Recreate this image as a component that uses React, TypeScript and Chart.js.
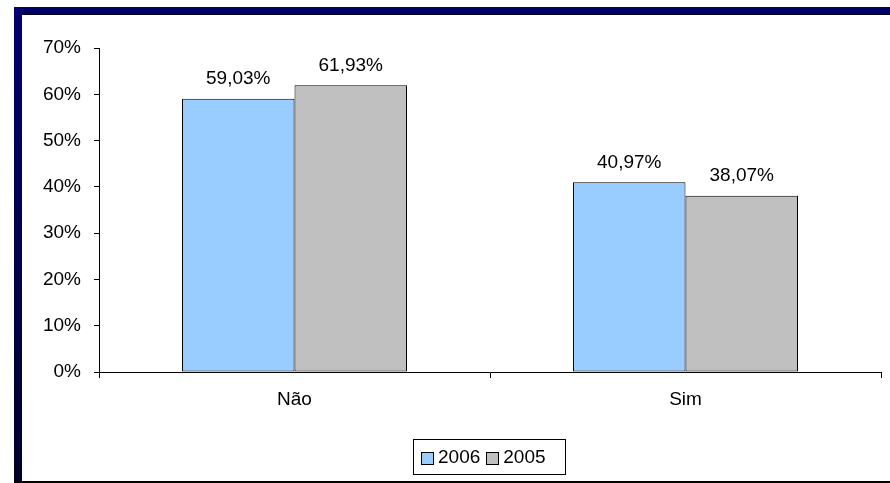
import React, { useEffect, useRef } from "react";
import { Chart, registerables } from "chart.js";

Chart.register(...registerables);

const categories = ["Não", "Sim"];
const seriesNames = ["2006", "2005"];
const values2006 = [59.03, 40.97];
const values2005 = [61.93, 38.07];
const seriesColors = ["#99CCFF", "#C0C0C0"];
const yTicks = [0, 10, 20, 30, 40, 50, 60, 70];

const FONT = "'Liberation Sans', Arial, sans-serif";

const labelPlugin = {
  id: "barLabels",
  afterDatasetsDraw(chart: any) {
    const ctx = chart.ctx;
    ctx.save();
    ctx.font = `19px ${FONT}`;
    ctx.fillStyle = "#000";
    ctx.textAlign = "center";
    ctx.textBaseline = "alphabetic";
    chart.data.datasets.forEach((ds: any, i: number) => {
      const meta = chart.getDatasetMeta(i);
      meta.data.forEach((bar: any, j: number) => {
        const v = ds.data[j] as number;
        const txt = v.toFixed(2).replace(".", ",") + "%";
        ctx.fillText(txt, bar.x, bar.y - 14.5);
      });
    });
    ctx.restore();
  },
};

export default function App() {
  const ref = useRef<HTMLCanvasElement | null>(null);

  useEffect(() => {
    if (!ref.current) return;
    const chart = new Chart(ref.current, {
      type: "bar",
      data: {
        labels: categories,
        datasets: [
          {
            label: seriesNames[0],
            data: values2006,
            backgroundColor: seriesColors[0],
            borderColor: "#000",
            borderWidth: 1,
            borderSkipped: false,
          },
          {
            label: seriesNames[1],
            data: values2005,
            backgroundColor: seriesColors[1],
            borderColor: "#000",
            borderWidth: 1,
            borderSkipped: false,
          },
        ],
      },
      options: {
        responsive: false,
        animation: false,
        devicePixelRatio: 1,
        datasets: { bar: { categoryPercentage: 0.5755, barPercentage: 1 } },
        layout: { padding: { left: 0, right: 9, top: 48, bottom: 61 } },
        plugins: { legend: { display: false }, tooltip: { enabled: false } },
        scales: {
          x: {
            afterFit: (s: any) => {
              s.height = 50;
            },
            grid: {
              display: true,
              drawOnChartArea: false,
              drawTicks: true,
              tickLength: 6,
              color: "#000",
              offset: true,
            },
            border: { display: true, color: "#000", width: 1 },
            ticks: {
              color: "#000",
              font: { family: FONT, size: 19 },
              padding: 10,
            },
          },
          y: {
            min: 0,
            max: 70,
            afterFit: (s: any) => {
              s.width = 99;
            },
            afterBuildTicks: (s: any) => {
              s.ticks = yTicks.map((v) => ({ value: v }));
            },
            grid: {
              display: true,
              drawOnChartArea: false,
              drawTicks: true,
              tickLength: 5,
              color: "#000",
            },
            border: { display: true, color: "#000", width: 1 },
            ticks: {
              color: "#000",
              font: { family: FONT, size: 19 },
              padding: 13,
              callback: (v: any) => v + "%",
            },
          },
        },
      },
      plugins: [labelPlugin],
    });
    return () => chart.destroy();
  }, []);

  return (
    <div
      style={{
        position: "fixed",
        left: 0,
        top: 0,
        width: 890,
        height: 483,
        background: "#fff",
        overflow: "hidden",
      }}
    >
      <div
        style={{
          position: "absolute",
          left: 14,
          top: 7,
          width: 900,
          height: 8,
          background: "#000066",
          borderBottom: "1px solid #000022",
          boxSizing: "border-box",
        }}
      />
      <div
        style={{
          position: "absolute",
          left: 14,
          top: 7,
          width: 8,
          height: 475,
          background: "linear-gradient(to bottom, #000070, #00002c)",
        }}
      />
      <div
        style={{
          position: "absolute",
          left: 14,
          top: 481,
          width: 900,
          height: 2,
          background: "#000",
        }}
      />
      <canvas
        ref={ref}
        width={890}
        height={483}
        style={{ position: "absolute", left: 0, top: 0, width: 890, height: 483 }}
      />
      <div
        style={{
          position: "absolute",
          left: 413,
          top: 439,
          width: 153,
          height: 36,
          border: "1px solid #000",
          boxSizing: "border-box",
          display: "flex",
          alignItems: "center",
          paddingLeft: 7,
          fontFamily: FONT,
          fontSize: 19,
          color: "#000",
        }}
      >
        {seriesNames.map((n, i) => (
          <div key={n} style={{ display: "flex", alignItems: "center", marginRight: i === 0 ? 6 : 0 }}>
            <span
              style={{
                display: "inline-block",
                width: 13,
                height: 13,
                background: seriesColors[i],
                border: "1px solid #000",
                boxSizing: "border-box",
                marginRight: 4,
                marginTop: 2,
              }}
            />
            <span>{n}</span>
          </div>
        ))}
      </div>
    </div>
  );
}
